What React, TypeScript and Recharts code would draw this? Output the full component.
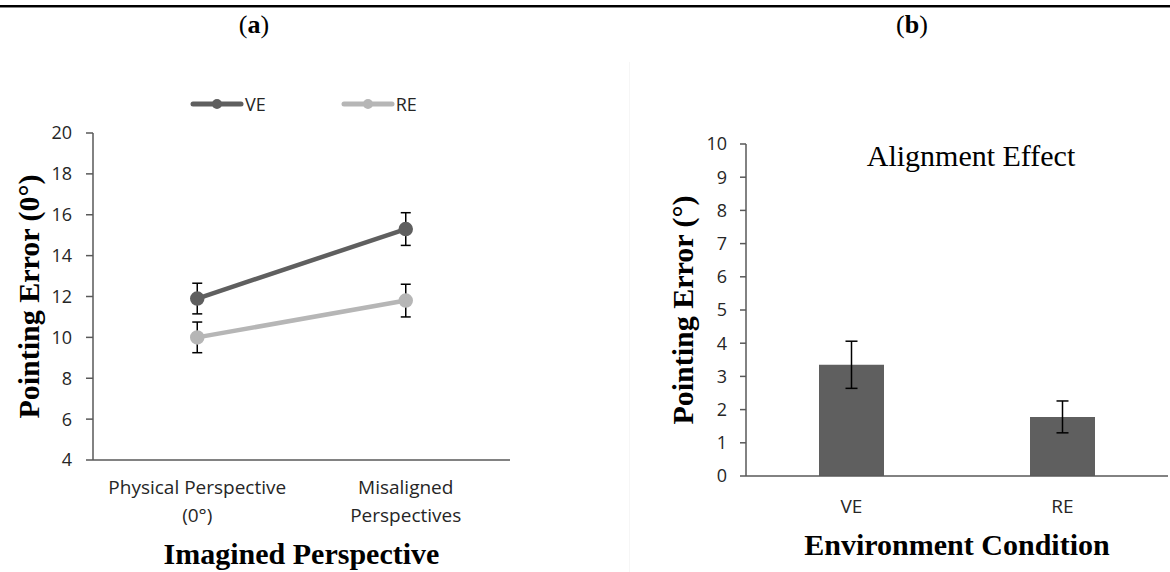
import React from "react"
import {
  LineChart,
  Line,
  BarChart,
  Bar,
  XAxis,
  YAxis,
  ErrorBar,
  Legend,
} from "recharts"

// panel (a): pointing error by imagined perspective
const perspectives = ["Physical Perspective\n(0°)", "Misaligned\nPerspectives"]
const veMeans = [11.9, 15.3]
const veErrors = [0.75, 0.8]
const reMeans = [10.0, 11.8]
const reErrors = [0.75, 0.8]
const errorTicksA = [4, 6, 8, 10, 12, 14, 16, 18, 20]

// panel (b): alignment effect by environment
const conditions = ["VE", "RE"]
const alignmentMeans = [3.35, 1.78]
const alignmentErrors = [0.71, 0.48]
const errorTicksB = [0, 1, 2, 3, 4, 5, 6, 7, 8, 9, 10]

// category boundaries, where the tick marks sit
const edgeTicks = [0, 1, 2]

const VE_COLOR = "#5f5f5f"
const RE_COLOR = "#b6b6b6"
const AXIS = "#595959"
const SANS = "'Open Sans', sans-serif"
const SERIF = "'Liberation Serif', 'Times New Roman', serif"

const lineData = perspectives.map((name, i) => ({
  name,
  VE: veMeans[i],
  veErr: veErrors[i],
  RE: reMeans[i],
  reErr: reErrors[i],
}))

const barData = conditions.map((name, i) => ({
  name,
  value: alignmentMeans[i],
  err: alignmentErrors[i],
}))

const tickStyle = { fontSize: 18, fontFamily: SANS, fill: "#262626" }
const titleStyle = { fontFamily: SERIF, fontSize: 30, fontWeight: "bold", fill: "#000" }

function CategoryTick(props: any) {
  const { x, y, payload, firstDy } = props
  const lines = String(payload.value).split("\n")
  return (
    <text x={x} y={y} textAnchor="middle" fontSize={19} fontFamily={SANS} fill="#262626">
      {lines.map((l, i) => (
        <tspan key={i} x={x} dy={i === 0 ? firstDy : 28}>
          {l}
        </tspan>
      ))}
    </text>
  )
}

function LegendContent() {
  const items = [
    { label: "VE", color: VE_COLOR },
    { label: "RE", color: RE_COLOR },
  ]
  return (
    <div style={{ display: "flex", gap: 75, alignItems: "center" }}>
      {items.map((it) => (
        <div key={it.label} style={{ display: "flex", alignItems: "center" }}>
          <svg width={54} height={12}>
            <line x1={3} y1={6} x2={51} y2={6} stroke={it.color} strokeWidth={5} strokeLinecap="round" />
            <circle cx={27} cy={6} r={5} fill={it.color} />
          </svg>
          <span style={{ fontFamily: SANS, fontSize: 18, color: "#262626", marginLeft: 1 }}>
            {it.label}
          </span>
        </div>
      ))}
    </div>
  )
}

const panelTag = {
  position: "absolute" as const,
  top: 12,
  width: 80,
  textAlign: "center" as const,
  fontFamily: SERIF,
  fontSize: 26,
  lineHeight: "26px",
}

export default function App() {
  return (
    <div
      style={{
        position: "absolute",
        left: 0,
        top: 0,
        width: 1170,
        height: 572,
        background: "#fff",
        overflow: "hidden",
      }}
    >
      <div style={{ position: "absolute", left: 0, top: 5, width: 1170, height: 2, background: "#000" }} />
      <div style={{ position: "absolute", left: 0, top: 7, width: 1170, height: 1, background: "#888" }} />
      <div style={{ position: "absolute", left: 629, top: 62, width: 1, height: 510, background: "#f6f6f6" }} />

      <div style={{ ...panelTag, left: 214 }}>
        (<b>a</b>)
      </div>
      <div style={{ ...panelTag, left: 872 }}>
        (<b>b</b>)
      </div>

      <div style={{ position: "absolute", left: 0, top: 0 }}>
        <LineChart
          width={540}
          height={572}
          data={lineData}
          margin={{ top: 133, right: 30, bottom: 1, left: 0 }}
        >
          <XAxis
            type="number"
            domain={[0, 2]}
            ticks={edgeTicks}
            tick={false}
            tickSize={8}
            height={1}
            axisLine={{ stroke: AXIS, strokeWidth: 1.5 }}
            tickLine={{ stroke: AXIS, strokeWidth: 1.5 }}
          />
          <XAxis
            xAxisId="cat"
            dataKey="name"
            scale="band"
            height={110}
            axisLine={false}
            tickLine={false}
            tickSize={0}
            tickMargin={0}
            interval={0}
            tick={<CategoryTick firstDy={33} />}
            label={{
              value: "Imagined Perspective",
              position: "insideBottom",
              offset: 7,
              style: titleStyle,
            }}
          />
          <YAxis
            domain={[4, 20]}
            ticks={errorTicksA}
            width={93}
            tickSize={7}
            tickMargin={14}
            tick={tickStyle}
            axisLine={{ stroke: AXIS, strokeWidth: 1.5 }}
            tickLine={{ stroke: AXIS, strokeWidth: 1.5 }}
            label={{
              value: "Pointing Error (0°)",
              angle: -90,
              position: "insideLeft",
              offset: 28,
              style: { ...titleStyle, textAnchor: "middle" },
            }}
          />
          <Legend
            layout="horizontal"
            verticalAlign="middle"
            align="center"
            content={<LegendContent />}
            wrapperStyle={{ top: 92, left: 190, width: 260, height: 22 }}
          />
          <Line
            xAxisId="cat"
            dataKey="VE"
            stroke={VE_COLOR}
            strokeWidth={4.5}
            dot={{ r: 5, fill: VE_COLOR, stroke: VE_COLOR }}
            isAnimationActive={false}
          >
            <ErrorBar dataKey="veErr" width={5} stroke="#000" strokeWidth={1.5} direction="y" />
          </Line>
          <Line
            xAxisId="cat"
            dataKey="RE"
            stroke={RE_COLOR}
            strokeWidth={4.5}
            dot={{ r: 5, fill: RE_COLOR, stroke: RE_COLOR }}
            isAnimationActive={false}
          >
            <ErrorBar dataKey="reErr" width={5} stroke="#000" strokeWidth={1.5} direction="y" />
          </Line>
        </LineChart>
      </div>

      <div style={{ position: "absolute", left: 600, top: 0 }}>
        <BarChart
          width={570}
          height={572}
          data={barData}
          margin={{ top: 144, right: 2, bottom: 2, left: 0 }}
        >
          <XAxis
            type="number"
            domain={[0, 2]}
            ticks={edgeTicks}
            tick={false}
            tickSize={8}
            height={1}
            axisLine={{ stroke: AXIS, strokeWidth: 1.5 }}
            tickLine={{ stroke: AXIS, strokeWidth: 1.5 }}
          />
          <XAxis
            xAxisId="cat"
            dataKey="name"
            height={93}
            axisLine={false}
            tickLine={false}
            tickSize={0}
            tickMargin={0}
            interval={0}
            tick={<CategoryTick firstDy={36} />}
            label={{
              value: "Environment Condition",
              position: "insideBottom",
              offset: 15,
              style: titleStyle,
            }}
          />
          <YAxis
            domain={[0, 10]}
            ticks={errorTicksB}
            width={146}
            tickSize={6}
            tickMargin={13}
            tick={tickStyle}
            axisLine={{ stroke: AXIS, strokeWidth: 1.5 }}
            tickLine={{ stroke: AXIS, strokeWidth: 1.5 }}
            label={{
              value: "Pointing Error (°)",
              angle: -90,
              position: "insideLeft",
              offset: 82,
              style: { ...titleStyle, textAnchor: "middle" },
            }}
          />
          <Bar xAxisId="cat" dataKey="value" fill={VE_COLOR} barSize={65} isAnimationActive={false}>
            <ErrorBar dataKey="err" width={6} stroke="#000" strokeWidth={1.5} direction="y" />
          </Bar>
        </BarChart>
      </div>

      <div
        style={{
          position: "absolute",
          left: 851,
          top: 141,
          width: 240,
          textAlign: "center",
          fontFamily: SERIF,
          fontSize: 30,
          lineHeight: "30px",
          whiteSpace: "nowrap",
        }}
      >
        Alignment Effect
      </div>
    </div>
  )
}
